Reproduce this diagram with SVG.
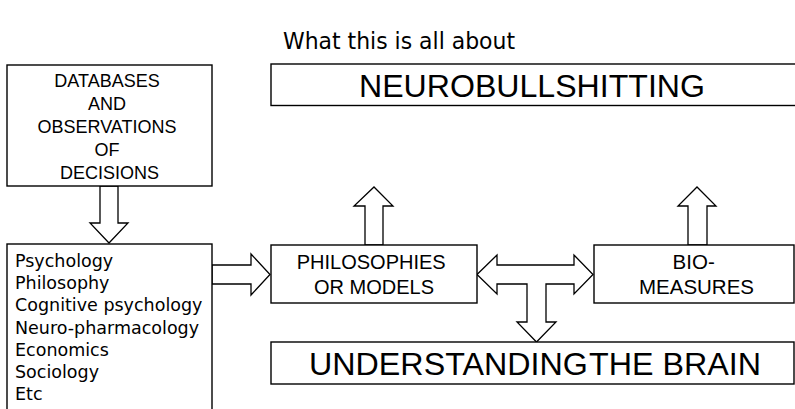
<svg xmlns="http://www.w3.org/2000/svg" width="795" height="409" viewBox="0 0 795 409">
  <style>
    .box { fill: #fff; stroke: #000; stroke-width: 1.4; }
    .arrow { fill: #fff; stroke: #000; stroke-width: 1.3; stroke-linejoin: miter; }
    .caps { font-family: "Liberation Sans", Arial, sans-serif; fill: #000; text-anchor: middle; }
    .soft { font-family: "DejaVu Sans", "Liberation Sans", sans-serif; fill: #000; }
  </style>
  <rect width="795" height="409" fill="#fff"/>

  <text id="title" class="soft" x="399" y="49" font-size="23" text-anchor="middle" textLength="232" lengthAdjust="spacingAndGlyphs">What this is all about</text>

  <g id="connectors">
    <!-- databases down to disciplines -->
    <polygon class="arrow" points="100,186 118,186 118,223 128,223 109,243 90,223 100,223"/>
    <!-- disciplines right to philosophies -->
    <polygon class="arrow" points="212,265 251,265 251,254 270,274.5 251,295 251,284 212,284"/>
    <!-- philosophies up -->
    <polygon class="arrow" points="365,245 365,206 354,206 374,187 393,206 383,206 383,245"/>
    <!-- bio-measures up -->
    <polygon class="arrow" points="688,245 688,206 678,206 697,187 716,206 707,206 707,245"/>
    <!-- two-way link with branch down to understanding -->
    <polygon class="arrow" points="477,274.5 497,255 497,265 574,265 574,255 593,274.5 574,294 574,284 546,284 546,322 556,322 536.5,342 517,322 527,322 527,284 497,284 497,294"/>
  </g>

  <g id="databases">
    <rect class="box" x="7" y="65" width="205" height="121"/>
    <text class="caps" font-size="18">
      <tspan x="109.5" y="87">DATABASES</tspan>
      <tspan x="109.5" y="110">AND</tspan>
      <tspan x="109.5" y="133">OBSERVATIONS</tspan>
      <tspan x="109.5" y="156">OF</tspan>
      <tspan x="109.5" y="179">DECISIONS</tspan>
    </text>
  </g>

  <g id="disciplines">
    <rect class="box" x="7" y="244" width="205" height="175"/>
    <text class="soft" font-size="17.5">
      <tspan x="15" y="267">Psychology</tspan>
      <tspan x="15" y="289.2">Philosophy</tspan>
      <tspan x="15" y="311.4">Cognitive psychology</tspan>
      <tspan x="15" y="333.6">Neuro-pharmacology</tspan>
      <tspan x="15" y="355.8">Economics</tspan>
      <tspan x="15" y="378">Sociology</tspan>
      <tspan x="15" y="400.2">Etc</tspan>
    </text>
  </g>

  <g id="neurobullshitting">
    <rect class="box" x="271" y="64" width="540" height="41.5"/>
    <text class="caps" x="532" y="97" font-size="31" textLength="346" lengthAdjust="spacingAndGlyphs">NEUROBULLSHITTING</text>
  </g>

  <g id="philosophies">
    <rect class="box" x="271" y="245" width="206" height="58"/>
    <text class="caps" font-size="20">
      <tspan x="374" y="269">PHILOSOPHIES</tspan>
      <tspan x="374" y="294">OR MODELS</tspan>
    </text>
  </g>

  <g id="biomeasures">
    <rect class="box" x="594" y="245" width="200" height="58"/>
    <text class="caps" font-size="20.5">
      <tspan x="696.5" y="269">BIO-</tspan>
      <tspan x="696.5" y="294">MEASURES</tspan>
    </text>
  </g>

  <g id="understanding">
    <rect class="box" x="271" y="342" width="523" height="42"/>
    <text class="caps" x="535" y="375" font-size="31.5" textLength="452" lengthAdjust="spacingAndGlyphs">UNDERSTANDING<tspan dx="-7"> THE BRAIN</tspan></text>
  </g>
</svg>
